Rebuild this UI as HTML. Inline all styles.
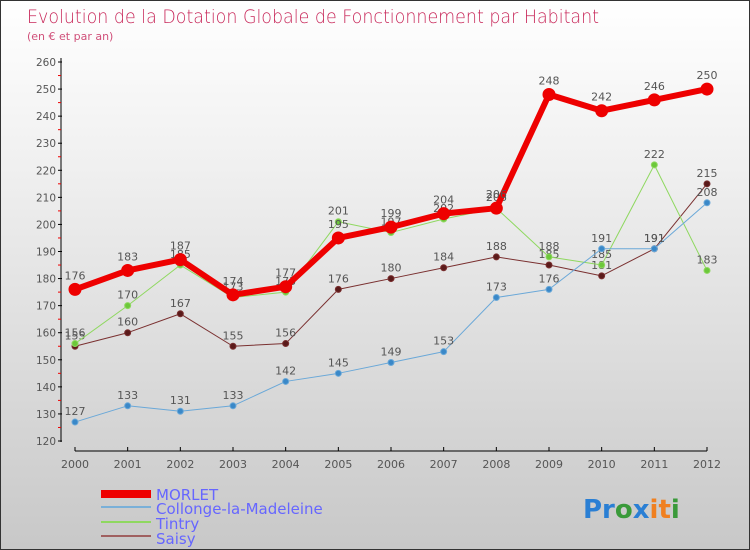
<!DOCTYPE html>
<html><head><meta charset="utf-8"><style>
body{margin:0}
#c{position:relative;width:748px;height:548px;border:1px solid #333;background:linear-gradient(#ffffff,#f0f0f0 30%,#c8c8c8);font-family:"DejaVu Sans","Liberation Sans",sans-serif;overflow:hidden}
text{font-family:"DejaVu Sans","Liberation Sans",sans-serif}
</style></head><body>
<div id="c">
<svg id="s" width="748" height="548">
<text x="26" y="22" font-size="19" fill="#c8285a" font-weight="200" textLength="572" lengthAdjust="spacingAndGlyphs">Evolution de la Dotation Globale de Fonctionnement par Habitant</text>
<text x="26" y="39" font-size="11" fill="#d0507a">(en € et par an)</text>
<g id="axes"></g><g id="series"></g>
<g>
<rect x="100" y="489" width="50" height="8" fill="#e00"/>
<text x="155" y="499" font-size="15" fill="#66f">MORLET</text>
<line x1="100" y1="506" x2="150" y2="506" stroke="#7ab0d8" stroke-width="2"/>
<text x="155" y="513" font-size="15" fill="#66f">Collonge-la-Madeleine</text>
<line x1="100" y1="521" x2="150" y2="521" stroke="#8fd860" stroke-width="2"/>
<text x="155" y="528" font-size="15" fill="#66f">Tintry</text>
<line x1="100" y1="535" x2="150" y2="535" stroke="#a06060" stroke-width="2"/>
<text x="155" y="543" font-size="15" fill="#66f">Saisy</text>
</g>
<text x="582" y="517" font-size="26" font-weight="bold"><tspan fill="#2a7fd4">Pr</tspan><tspan fill="#3a9a3a">o</tspan><tspan fill="#2a7fd4">x</tspan><tspan fill="#f08020">it</tspan><tspan fill="#3a9a3a">i</tspan></text>
</svg></div>
<script>
const years=[2000,2001,2002,2003,2004,2005,2006,2007,2008,2009,2010,2011,2012];
const yTicks=[120,130,140,150,160,170,180,190,200,210,220,230,240,250,260];
const morlet=[176,183,187,174,177,195,199,204,206,248,242,246,250];
const collonge=[127,133,131,133,142,145,149,153,173,176,191,191,208];
const tintry=[156,170,185,173,175,201,197,202,206,188,185,222,183];
const saisy=[155,160,167,155,156,176,180,184,188,185,181,191,215];
const NS="http://www.w3.org/2000/svg";
const xS=i=>74+i*(632/12);
const yS=v=>440-(v-120)*(379/140);
function el(t,a,p){const e=document.createElementNS(NS,t);for(const k in a)e.setAttribute(k,a[k]);p.appendChild(e);return e;}
const ax=document.getElementById('axes'),sg=document.getElementById('series');
let l=el('line',{x1:60,y1:57,x2:60,y2:441,stroke:'#000'},ax);


yTicks.forEach((v,k)=>{
 const t=el('line',{x1:57,y1:yS(v),x2:61,y2:yS(v),stroke:'#000'},ax);
 
 
 if(k<yTicks.length-1){
 const m=el('line',{x1:57,y1:yS(v+5),x2:60,y2:yS(v+5),stroke:'#e00'},ax);
 
 
 }
 const tx=el('text',{x:55,y:yS(v)+4,'font-size':11,fill:'#555','text-anchor':'end','textLength':20,'lengthAdjust':'spacingAndGlyphs'},ax);tx.textContent=v;
 
 
});
l=el('line',{x1:xS(0),y1:450,x2:xS(12),y2:450,stroke:'#000'},ax);


years.forEach((y,i)=>{
 const t=el('line',{x1:xS(i),y1:446,x2:xS(i),y2:450,stroke:'#000'},ax);
 
 
 const tx=el('text',{x:xS(i),y:467,'font-size':11,fill:'#555','text-anchor':'middle'},ax);tx.textContent=y;
 
 
});
function draw(d,name,col,w,r,dot){
 const g=el('g',{},sg);
 
 
 const p=el('polyline',{points:d.map((v,i)=>xS(i)+','+yS(v)).join(' '),fill:'none',stroke:col,'stroke-width':w,'stroke-linejoin':'round'},g);
 
 
 d.forEach((v,i)=>{
  const c=el('circle',{cx:xS(i),cy:yS(v),r:r,fill:dot,stroke:col,'stroke-width':1},g);
  
  
  const t=el('text',{x:xS(i),y:yS(v)-(r+4),'font-size':11,fill:'#555','text-anchor':'middle'},g);t.textContent=v;
  
  
 });
}
draw(saisy,'saisy','#7a3030',1,3,'#5a1a1a');
draw(tintry,'tintry','#8fd860',1,3,'#6cc83a');
draw(collonge,'collonge','#6aa8d8',1,3,'#3a88c8');
draw(morlet,'morlet','#ee0000',6,6,'#ee0000');
</script>
</body></html>
